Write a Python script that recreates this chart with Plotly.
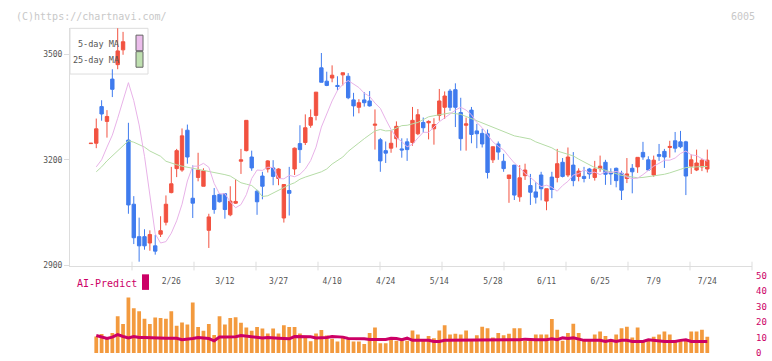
import plotly.graph_objects as go

W, H = 772, 361
MONO = "DejaVu Sans Mono"

# ---------------- data ----------------
opens = [3246, 3247, 3351, 3309, 3429, 3470, 3512, 3256, 3074, 2982,
         2982, 2964, 2956, 2989, 3023, 3107, 3175, 3171, 3284, 3091,
         3150, 3125, 3000, 3099, 3102, 3104, 3044, 3077, 3196, 3226,
         3208, 3111, 3154, 3174, 3177, 3147, 3035, 3113, 3174, 3246,
         3249, 3298, 3326, 3461, 3423, 3432, 3411, 3441, 3437, 3370,
         3349, 3370, 3367, 3298, 3257, 3226, 3233, 3260, 3231, 3251,
         3249, 3274, 3306, 3305, 3288, 3326, 3349, 3395, 3399, 3334,
         3298, 3341, 3282, 3275, 3274, 3200, 3245, 3196, 3147, 3185,
         3095, 3155, 3127, 3109, 3157, 3083, 3151, 3150, 3193, 3157,
         3185, 3153, 3153, 3174, 3150, 3175, 3193, 3165, 3176, 3162,
         3147, 3176, 3180, 3221, 3200, 3157, 3215, 3224, 3235, 3254,
         3251, 3251, 3182, 3171, 3180, 3174]
highs = [3247, 3317, 3369, 3341, 3457, 3575, 3563, 3305, 3097, 3036,
         3003, 3000, 2987, 3040, 3099, 3180, 3231, 3289, 3300, 3184,
         3220, 3176, 3047, 3120, 3105, 3104, 3125, 3145, 3231, 3312,
         3226, 3115, 3166, 3199, 3199, 3176, 3130, 3180, 3235, 3298,
         3329, 3343, 3392, 3503, 3450, 3468, 3437, 3447, 3446, 3390,
         3372, 3392, 3395, 3343, 3262, 3252, 3283, 3309, 3261, 3261,
         3350, 3344, 3320, 3312, 3318, 3401, 3394, 3401, 3417, 3376,
         3320, 3350, 3302, 3288, 3286, 3238, 3252, 3217, 3157, 3185,
         3185, 3189, 3160, 3136, 3166, 3118, 3166, 3231, 3205, 3235,
         3222, 3176, 3180, 3177, 3197, 3212, 3200, 3176, 3178, 3169,
         3205, 3188, 3207, 3251, 3210, 3212, 3245, 3231, 3254, 3279,
         3282, 3254, 3215, 3229, 3203, 3229]
lows = [3246, 3233, 3311, 3263, 3378, 3457, 3498, 3047, 2961, 2911,
        2945, 2942, 2931, 2981, 3014, 3105, 3151, 3166, 3189, 3035,
        3139, 3125, 2950, 3047, 3079, 3033, 3040, 3075, 3160, 3224,
        3169, 3044, 3088, 3164, 3128, 3128, 3022, 3042, 3157, 3191,
        3242, 3291, 3312, 3420, 3409, 3420, 3397, 3411, 3372, 3323,
        3332, 3351, 3351, 3229, 3166, 3191, 3220, 3235, 3206, 3197,
        3240, 3270, 3277, 3258, 3243, 3311, 3316, 3339, 3293, 3226,
        3226, 3247, 3233, 3235, 3147, 3191, 3200, 3166, 3078, 3086,
        3081, 3143, 3072, 3076, 3085, 3057, 3091, 3136, 3150, 3151,
        3125, 3139, 3136, 3146, 3141, 3166, 3129, 3129, 3122, 3086,
        3134, 3105, 3163, 3200, 3170, 3152, 3197, 3177, 3206, 3221,
        3233, 3100, 3160, 3168, 3168, 3164]
closes = [3247, 3288, 3330, 3323, 3400, 3509, 3535, 3072, 2979, 2956,
          2956, 2988, 2941, 2999, 3074, 3132, 3226, 3268, 3208, 3077,
          3171, 3169, 3038, 3059, 3081, 3059, 3083, 3082, 3200, 3312,
          3177, 3081, 3125, 3197, 3153, 3174, 3130, 3105, 3233, 3229,
          3291, 3320, 3392, 3420, 3411, 3440, 3408, 3447, 3376, 3353,
          3362, 3362, 3353, 3301, 3197, 3219, 3247, 3295, 3228, 3229,
          3312, 3328, 3291, 3309, 3300, 3367, 3381, 3349, 3349, 3260,
          3302, 3272, 3274, 3245, 3164, 3237, 3222, 3175, 3157, 3100,
          3149, 3171, 3108, 3094, 3118, 3118, 3116, 3189, 3153, 3208,
          3141, 3168, 3147, 3160, 3174, 3182, 3159, 3160, 3141, 3114,
          3160, 3166, 3207, 3208, 3171, 3199, 3210, 3208, 3238, 3233,
          3237, 3154, 3200, 3191, 3199, 3199]

ma5 = [None, 3180, 3200, 3236, 3270, 3318, 3370, 3419, 3368, 3299,
       3210, 3100, 2990, 2964, 2968, 2992, 3027, 3074, 3140, 3182,
       3182, 3190, 3179, 3133, 3103, 3104, 3081, 3064, 3073, 3101,
       3147, 3171, 3170, 3179, 3178, 3147, 3146, 3156, 3152, 3159,
       3174, 3198, 3236, 3293, 3330, 3367, 3397, 3414, 3425, 3416,
       3405, 3389, 3380, 3361, 3346, 3315, 3286, 3263, 3252, 3237,
       3244, 3262, 3278, 3278, 3294, 3308, 3319, 3330, 3341, 3349,
       3341, 3328, 3306, 3291, 3271, 3251, 3238, 3228, 3209, 3191,
       3178, 3161, 3150, 3137, 3124, 3128, 3122, 3111, 3127, 3139,
       3157, 3161, 3172, 3163, 3165, 3158, 3166, 3164, 3167, 3163,
       3151, 3147, 3148, 3158, 3171, 3182, 3190, 3199, 3199, 3205,
       3218, 3225, 3214, 3212, 3203, 3196]
ma25 = [None, 3166, 3180, 3197, 3212, 3226, 3240, 3254, 3250, 3242,
        3236, 3225, 3218, 3210, 3196, 3190, 3186, 3182, 3179, 3176,
        3175, 3170, 3167, 3164, 3162, 3158, 3154, 3145, 3135, 3131,
        3127, 3114, 3096, 3098, 3106, 3114, 3123, 3129, 3135, 3145,
        3151, 3157, 3161, 3166, 3174, 3188, 3198, 3208, 3224, 3237,
        3248, 3260, 3271, 3282, 3286, 3282, 3283, 3290, 3297, 3298,
        3301, 3306, 3314, 3322, 3325, 3328, 3331, 3333, 3331, 3329,
        3323, 3317, 3312, 3305, 3299, 3292, 3287, 3281, 3274, 3268,
        3265, 3262, 3259, 3251, 3246, 3241, 3234, 3225, 3221, 3215,
        3211, 3202, 3194, 3186, 3178, 3175, 3170, 3165, 3161, 3156,
        3154, 3151, 3149, 3150, 3152, 3155, 3157, 3159, 3163, 3169,
        3173, 3178, 3180, 3180, 3181, 3181]

volume = [None, 10.7, 12.3, 9.6, 13.0, 23.8, 18.8, 35.8, 28.9, 27.0,
          22.2, 18.8, 23.0, 22.6, 22.2, 27.0, 17.6, 19.7, 18.4, 32.6,
          16.9, 14.4, 18.8, 11.7, 23.8, 18.4, 22.6, 23.2, 19.5, 16.5,
          14.4, 16.9, 15.9, 12.6, 15.9, 12.6, 18.0, 16.9, 16.9, 12.6,
          10.7, 7.7, 12.6, 14.9, 11.3, 9.2, 7.5, 10.9, 8.8, 7.5,
          7.5, 5.9, 13.0, 16.5, 6.3, 6.3, 10.0, 7.9, 9.0, 8.0,
          14.5, 12.0, 9.0, 11.0, 9.5, 14.5, 18.0, 12.0, 12.5, 12.0,
          14.5, 8.0, 11.5, 17.0, 16.0, 10.0, 13.0, 11.5, 12.5, 16.0,
          16.0, 8.0, 8.0, 12.0, 12.0, 12.0, 22.0, 15.0, 8.0, 13.0,
          19.0, 13.0, 8.0, 8.0, 12.0, 14.0, 11.0, 8.0, 12.0, 16.0,
          17.0, 10.0, 16.5, 8.0, 8.0, 10.5, 12.0, 14.0, 12.0, 8.0,
          8.0, 8.0, 14.0, 14.0, 15.0, 10.5]
ai_predict = [None, 11.3, 10.5, 9.4, 10.3, 11.9, 10.7, 9.8, 10.7, 10.0,
              10.0, 9.8, 9.6, 9.6, 9.6, 9.6, 9.6, 8.6, 8.8, 9.4,
              10.0, 9.6, 9.4, 7.9, 10.3, 10.3, 10.3, 10.5, 11.3, 10.9,
              10.5, 9.8, 9.8, 10.0, 10.0, 9.6, 9.4, 9.2, 10.7, 10.7,
              10.7, 10.5, 9.8, 9.8, 10.0, 10.7, 10.7, 10.3, 9.4, 9.4,
              9.2, 9.2, 8.8, 8.8, 8.8, 8.8, 9.6, 9.4, 8.6, 9.6,
              8.2, 8.2, 8.6, 8.2, 7.5, 7.5, 8.2, 8.2, 8.2, 8.2,
              8.6, 8.6, 8.6, 8.2, 8.2, 8.2, 8.2, 8.2, 8.2, 8.6,
              8.6, 9.0, 8.6, 8.6, 8.6, 8.6, 9.2, 8.6, 9.8, 9.4,
              9.8, 9.0, 8.2, 8.2, 8.2, 8.2, 7.5, 8.2, 7.5, 8.2,
              8.2, 7.5, 7.5, 7.5, 8.6, 8.2, 8.2, 7.5, 7.5, 7.5,
              8.2, 8.6, 7.5, 7.5, 7.5, 7.5]

date_ticks = [15, 25, 35, 45, 55, 65, 75, 85, 95, 105, 115]
date_labels = ["2/26", "3/12", "3/27", "4/10", "4/24", "5/14", "5/28",
               "6/11", "6/25", "7/9", "7/24"]
price_ticks = [2900, 3200, 3500]
vol_ticks = [0, 10, 20, 30, 40, 50]

idx = list(range(len(closes)))

# ---------------- geometry helpers ----------------
PL, PR = 70, 752
def px(xp):
    return (xp - PL) / (PR - PL)
def py(yp):
    return (H - yp) / H

RED = "#f25240"
BLUE = "#3f7bee"
PINK = "#e8b2e8"
GREEN = "#b5dca6"
CRIMSON = "#cc0066"
ORANGE = "#f39a3e"

fig = go.Figure()
fig.add_trace(go.Candlestick(
    x=idx, open=opens, high=highs, low=lows, close=closes,
    increasing=dict(line=dict(color=RED, width=1), fillcolor=RED),
    decreasing=dict(line=dict(color=BLUE, width=1), fillcolor=BLUE),
    whiskerwidth=0, hoverinfo="skip", showlegend=False,
    xaxis="x", yaxis="y"))
fig.add_trace(go.Scatter(x=idx, y=ma25, mode="lines",
                         line=dict(color=GREEN, width=1),
                         showlegend=False, hoverinfo="skip"))
fig.add_trace(go.Scatter(x=idx, y=ma5, mode="lines",
                         line=dict(color=PINK, width=1),
                         showlegend=False, hoverinfo="skip"))
fig.add_trace(go.Bar(x=idx, y=volume, marker=dict(color=ORANGE, line=dict(width=0)),
                     width=0.7, xaxis="x2", yaxis="y2",
                     showlegend=False, hoverinfo="skip"))
fig.add_trace(go.Scatter(x=idx, y=ai_predict, mode="lines",
                         line=dict(color=CRIMSON, width=3),
                         xaxis="x2", yaxis="y2",
                         showlegend=False, hoverinfo="skip"))

xr = [(PL - 90.9) / 5.36, (PR - 90.9) / 5.36]

shapes = []
# legend box
shapes.append(dict(type="rect", xref="paper", yref="paper", layer="below",
                   x0=px(70), x1=px(148), y0=py(71), y1=py(24),
                   line=dict(color="#dddddd", width=1), fillcolor="white"))
shapes.append(dict(type="rect", xref="paper", yref="paper",
                   x0=px(136), x1=px(143), y0=py(47), y1=py(31),
                   line=dict(color="#666666", width=1), fillcolor="#ebbdeb"))
shapes.append(dict(type="rect", xref="paper", yref="paper",
                   x0=px(136), x1=px(143), y0=py(64), y1=py(48),
                   line=dict(color="#666666", width=1), fillcolor="#bfe0b0"))
# x division marks
for k in range(1, 12):
    shapes.append(dict(type="line", xref="paper", yref="paper",
                       x0=k / 11, x1=k / 11, y0=py(264), y1=py(273),
                       line=dict(color="#dddddd", width=1)))
# AI-Predict marker
shapes.append(dict(type="rect", xref="paper", yref="paper",
                   x0=px(142), x1=px(149), y0=py(293), y1=py(277),
                   line=dict(width=0), fillcolor=CRIMSON))

annotations = [
    dict(text="(C)https://chartnavi.com/", x=px(14), y=py(12), xref="paper", yref="paper",
         xanchor="left", yanchor="middle", showarrow=False,
         font=dict(family=MONO, size=10, color="#c8c8c8")),
    dict(text="6005", x=px(757), y=py(12), xref="paper", yref="paper",
         xanchor="right", yanchor="middle", showarrow=False,
         font=dict(family=MONO, size=10, color="#c8c8c8")),
    dict(text="5-day MA", x=px(121), y=py(40), xref="paper", yref="paper",
         xanchor="right", yanchor="middle", showarrow=False,
         font=dict(family=MONO, size=8.5, color="#555555")),
    dict(text="25-day MA", x=px(121), y=py(57), xref="paper", yref="paper",
         xanchor="right", yanchor="middle", showarrow=False,
         font=dict(family=MONO, size=8.5, color="#555555")),
    dict(text="AI-Predict", x=px(75), y=py(286), xref="paper", yref="paper",
         xanchor="left", yanchor="middle", showarrow=False,
         font=dict(family=MONO, size=10, color=CRIMSON)),
]

fig.update_layout(
    width=W, height=H,
    margin=dict(l=PL, r=W - PR, t=0, b=0),
    paper_bgcolor="white", plot_bgcolor="white",
    showlegend=False, boxgap=0.1,
    xaxis=dict(domain=[0, 1], range=xr, anchor="y",
               tickvals=date_ticks, ticktext=date_labels, ticks="",
               ticklabelstandoff=8,
               tickfont=dict(family=MONO, size=8, color="#555555"),
               showline=True, linecolor="#dddddd", linewidth=1,
               showgrid=False, zeroline=False,
               rangeslider=dict(visible=False)),
    yaxis=dict(domain=[py(268), py(24)], range=[2900, 3573], anchor="x",
               tickvals=price_ticks, ticks="outside", ticklen=5, tickcolor="#dddddd",
               tickfont=dict(family=MONO, size=8, color="#555555"),
               showline=True, linecolor="#dddddd", linewidth=1,
               showgrid=False, zeroline=False),
    xaxis2=dict(domain=[0, 1], range=xr, anchor="y2", visible=False),
    yaxis2=dict(domain=[py(358), py(278.3)], range=[0, 50], anchor="x2",
                side="right", tickvals=vol_ticks, ticks="", ticklabelstandoff=3,
                tickfont=dict(family=MONO, size=9, color=CRIMSON),
                showline=False, showgrid=False, zeroline=False),
    shapes=shapes, annotations=annotations,
)

fig.write_html("out.html")
